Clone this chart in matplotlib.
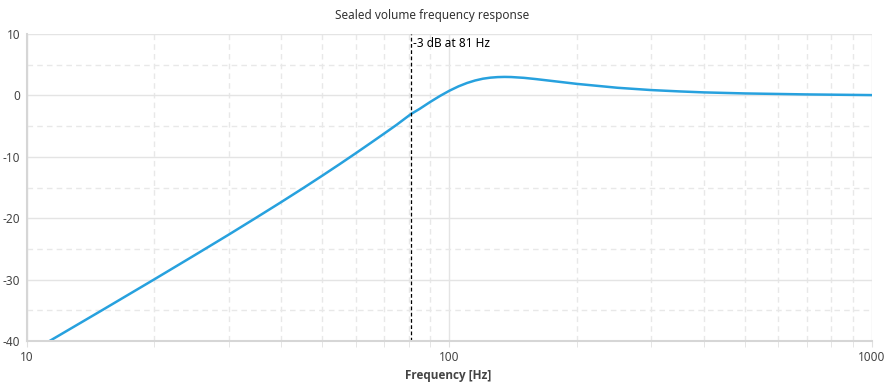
import matplotlib
matplotlib.use('Agg')
import matplotlib.pyplot as plt
from matplotlib.ticker import LogLocator, MultipleLocator, FixedLocator, NullFormatter

plt.rcParams['font.family'] = ['Noto Sans', 'DejaVu Sans']
plt.rcParams['axes.unicode_minus'] = False

# frequency response (Hz, dB)
freq = [10, 12, 15, 20, 25, 30, 35, 40, 45, 50, 55, 60, 65, 70, 75, 81, 85, 90, 95,
        100, 105, 110, 115, 120, 125, 130, 135, 140, 150, 160, 180, 200, 250, 300,
        350, 400, 500, 700, 1000]
gain = [-42.15, -38.96, -35.05, -29.97, -25.98, -22.69, -19.85, -17.36, -15.12, -13.07,
        -11.18, -9.42, -7.77, -6.23, -4.78, -3.05, -2.19, -1.07, -0.08,
        0.77, 1.47, 2.02, 2.43, 2.72, 2.89, 2.98, 3.01, 2.99, 2.86, 2.66, 2.25, 1.88,
        1.24, 0.87, 0.65, 0.49, 0.32, 0.16, 0.05]
f3 = 81
f3_label = '-3 dB at 81 Hz'
xticks = [10, 100, 1000]
xtick_labels = ['10', '100', '1000']

fig = plt.figure(figsize=(8.87, 3.90), dpi=100)
ax = fig.add_axes([27/887, 1-341/390, (872-27)/887, (341-34)/390])

ax.set_xscale('log')
ax.set_xlim(10, 1000)
ax.set_ylim(-40, 10)

ax.xaxis.set_major_locator(FixedLocator(xticks))
ax.set_xticklabels(xtick_labels)
ax.xaxis.set_minor_locator(LogLocator(base=10, subs=range(2, 10)))
ax.xaxis.set_minor_formatter(NullFormatter())
ax.yaxis.set_major_locator(MultipleLocator(10))
ax.yaxis.set_minor_locator(MultipleLocator(5))

ax.grid(which='major', color='#e4e4e4', lw=1.0, ls='-')
ax.grid(which='minor', color='#e8e8e8', lw=1.0, ls=(0, (4, 3)))
ax.set_axisbelow(True)

for s in ['top', 'right']:
    ax.spines[s].set_visible(False)
for s in ['left', 'bottom']:
    ax.spines[s].set_color('#d6d6d6')
    ax.spines[s].set_linewidth(1.5)

ax.tick_params(which='both', length=4, color='#e0e0e0', labelsize=8.5, labelcolor='#444444', pad=3)
ax.tick_params(axis='y', which='minor', length=0)
ax.tick_params(axis='y', which='major', length=0, pad=5)

ax.plot(freq, gain, color='#27a1de', lw=1.8, clip_on=True)

ax.axvline(f3, color='black', lw=0.9, ls=(0, (3, 2)), clip_on=False)
ax.text(f3 * 1.01, 8.4, f3_label, fontsize=8.5, color='black', va='center', ha='left')

fig.text(432.5/887, 1-16/390, 'Sealed volume frequency response', ha='center', va='center',
         fontsize=8.5, color='#333333')
fig.text(448.5/887, 1-376/390, 'Frequency [Hz]', ha='center', va='center',
         fontsize=8.5, fontweight='bold', color='#444444', family=['Open Sans', 'DejaVu Sans'])

fig.savefig('out.png', dpi=100)
